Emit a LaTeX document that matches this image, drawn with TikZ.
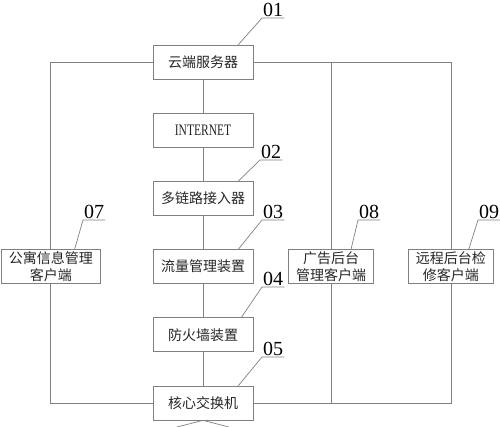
\documentclass[tikz,border=0pt]{standalone}
\usepackage{fontspec}
\setmainfont{Liberation Serif}
\newfontfamily\cjk{Noto Sans CJK SC}
\newfontfamily\netfont[FakeStretch=0.72]{Liberation Serif}
\usetikzlibrary{positioning}

\begin{document}
\begin{tikzpicture}[
            x=1pt, y=-1pt,
            % distances between the boxes of the middle column
            node distance=33.5pt,
            % boxes, lines and reference numbers
            box/.style={rectangle, draw=black!50, line width=0.7pt, minimum width=100pt, minimum height=34pt, inner sep=0pt, text=black!85, font=\cjk\fontsize{14}{17}\selectfont},
            client/.style={rectangle, draw=black!50, line width=0.7pt, minimum height=34pt, inner xsep=7.5pt, inner ysep=1pt, align=center, text=black!85, font=\cjk\fontsize{14}{17}\selectfont},
            link/.style={draw=black!50, line width=0.7pt},
            tag/.style={anchor=south west, inner xsep=1pt, inner ysep=1.5pt, font=\fontsize{20}{20}\selectfont}
            ]
            \useasboundingbox (0,0) rectangle (500,427);

            % middle column
            \node (cloud) [box] at (203,62) {云端服务器};
            \node (inet) [box, below=of cloud, font=\netfont\fontsize{16}{16}\selectfont] {INTERNET};
            \node (mux) [box, below=of inet] {多链路接入器};
            \node (flow) [box, below=of mux] {流量管理装置};
            \node (fw) [box, below=of flow] {防火墙装置};
            \node (core) [box, below=of fw] {核心交换机};

            % clients
            \node (apt) [client, left=52pt of flow] {公寓信息管理\\客户端};
            \node (ad) [client, right=35pt of flow] {广告后台\\管理客户端};
            \node (remote) [client, right=34pt of ad] {远程后台检\\修客户端};

            % middle chain
            \draw [link] (cloud) -- (inet);
            \draw [link] (inet) -- (mux);
            \draw [link] (mux) -- (flow);
            \draw [link] (flow) -- (fw);
            \draw [link] (fw) -- (core);

            % clients to server and switch
            \draw [link] (cloud.west) -| (apt.north);
            \draw [link] (apt.south) |- (core.west);
            \draw [link] (cloud.east) -| (remote.north);
            \draw [link] (remote.south) |- (core.east);
            \draw [link] (ad.north) -- (ad.north |- cloud.east);
            \draw [link] (ad.south) -- (ad.south |- core.east);

            % lines leaving the switch downwards
            \coordinate (downL) at (177,427);
            \coordinate (downR) at (229,427);
            \draw [link] (downL) -- (core.south) -- (downR);

            % reference numbers
            \node (t01) [tag] at (262,18) {01};
            \node (t02) [tag] at (260,160) {02};
            \node (t03) [tag] at (262,220) {03};
            \node (t04) [tag] at (262,287) {04};
            \node (t05) [tag] at (262,357) {05};
            \node (t07) [tag] at (83,220) {07};
            \node (t08) [tag] at (358,220) {08};
            \node (t09) [tag] at (478,220) {09};

            \draw [link] ([xshift=-15pt]cloud.north east) -- (t01.south west) -- (t01.south east);
            \draw [link] ([xshift=-15pt]mux.north east) -- (t02.south west) -- (t02.south east);
            \draw [link] ([xshift=-15pt]flow.north east) -- (t03.south west) -- (t03.south east);
            \draw [link] ([xshift=-12pt]fw.north east) -- (t04.south west) -- (t04.south east);
            \draw [link] ([xshift=-15pt]core.north east) -- (t05.south west) -- (t05.south east);
            \draw [link] ([xshift=-26pt]apt.north east) -- (t07.south west) -- (t07.south east);
            \draw [link] ([xshift=-23pt]ad.north east) -- (t08.south west) -- (t08.south east);
            \draw [link] ([xshift=-25pt]remote.north east) -- (t09.south west) -- (t09.south east);

\end{tikzpicture}
\end{document}
